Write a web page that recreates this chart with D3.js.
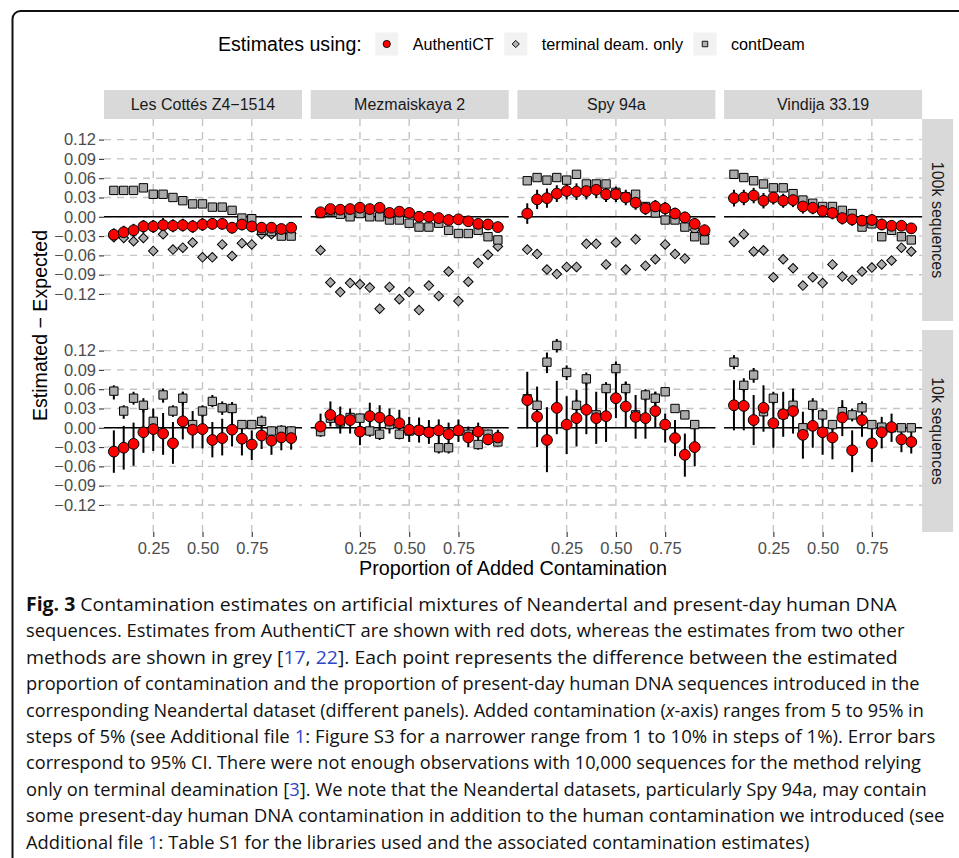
<!DOCTYPE html>
<html>
<head>
<meta charset="utf-8">
<script src="https://cdn.jsdelivr.net/npm/d3@7"></script>
<style>
  body { margin: 0; background: #fff; }
  svg { display: block; }
</style>
</head>
<body>
<div id="chart"></div>
<script>
// ---- data ----
var props = [0.05, 0.10, 0.15, 0.20, 0.25, 0.30, 0.35, 0.40, 0.45, 0.50,
             0.55, 0.60, 0.65, 0.70, 0.75, 0.80, 0.85, 0.90, 0.95];
var datasets = ["Les Cottés Z4\u22121514", "Mezmaiskaya 2", "Spy 94a", "Vindija 33.19"];
var depths = ["100k sequences", "10k sequences"];
var methods = ["AuthentiCT", "terminal deam. only", "contDeam"];
var yTicks = [-0.12, -0.09, -0.06, -0.03, 0, 0.03, 0.06, 0.09, 0.12];
var xTicks = [0.25, 0.50, 0.75];

// 100k sequences (AuthentiCT value + CI half width, terminal deam., contDeam)
var lc100Auth   = [-0.028,-0.024,-0.021,-0.015,-0.015,-0.013,-0.014,-0.013,-0.015,-0.012,-0.011,-0.011,-0.017,-0.012,-0.015,-0.017,-0.017,-0.019,-0.017];
var lc100AuthCi = [0.010,0.010,0.010,0.010,0.010,0.011,0.010,0.010,0.010,0.010,0.009,0.009,0.009,0.009,0.009,0.009,0.008,0.008,0.008];
var lc100Term   = [-0.032,-0.033,-0.038,-0.033,-0.053,-0.027,-0.051,-0.048,-0.040,-0.063,-0.063,-0.043,-0.061,-0.041,-0.043,-0.027,-0.027,-0.026,-0.026];
var lc100Cont   = [0.041,0.041,0.041,0.045,0.035,0.035,0.030,0.025,0.020,0.020,0.015,0.015,0.010,-0.002,-0.003,-0.021,-0.023,-0.030,-0.030];

var mz100Auth   = [0.007,0.012,0.011,0.012,0.014,0.012,0.014,0.006,0.008,0.006,0.000,0.000,-0.002,-0.005,-0.004,-0.007,-0.011,-0.012,-0.016];
var mz100AuthCi = [0.007,0.007,0.007,0.007,0.007,0.007,0.007,0.007,0.007,0.007,0.006,0.006,0.006,0.006,0.006,0.006,0.006,0.006,0.006];
var mz100Term   = [-0.052,-0.102,-0.117,-0.103,-0.105,-0.110,-0.143,-0.109,-0.128,-0.117,-0.145,-0.107,-0.123,-0.085,-0.131,-0.101,-0.072,-0.059,-0.046];
var mz100Cont   = [0.005,0.009,0.004,0.000,0.005,0.000,0.000,-0.005,-0.005,-0.010,-0.016,-0.016,-0.010,-0.021,-0.026,-0.026,-0.021,-0.031,-0.036];

var spy100Auth   = [0.005,0.027,0.029,0.036,0.040,0.039,0.040,0.042,0.035,0.035,0.030,0.022,0.013,0.016,0.013,0.005,-0.001,-0.011,-0.021];
var spy100AuthCi = [0.016,0.015,0.015,0.013,0.013,0.013,0.013,0.013,0.012,0.012,0.012,0.011,0.010,0.010,0.010,0.009,0.009,0.009,0.009];
var spy100Term   = [-0.051,-0.058,-0.082,-0.089,-0.078,-0.078,-0.042,-0.042,-0.074,-0.040,-0.082,-0.035,-0.076,-0.066,-0.043,-0.058,-0.065,-0.020,-0.027];
var spy100Cont   = [0.056,0.061,0.057,0.061,0.057,0.066,0.051,0.051,0.051,0.038,0.031,0.035,0.016,0.006,-0.005,-0.005,-0.016,-0.031,-0.036];

var vi100Auth   = [0.029,0.030,0.033,0.025,0.030,0.025,0.026,0.016,0.014,0.009,0.006,-0.002,-0.004,-0.006,-0.005,-0.012,-0.014,-0.014,-0.018];
var vi100AuthCi = [0.013,0.012,0.012,0.012,0.011,0.011,0.011,0.011,0.010,0.010,0.010,0.010,0.010,0.009,0.009,0.009,0.008,0.008,0.008];
var vi100Term   = [-0.039,-0.027,-0.054,-0.052,-0.094,-0.066,-0.080,-0.107,-0.094,-0.103,-0.074,-0.093,-0.098,-0.085,-0.079,-0.074,-0.068,-0.048,-0.054];
var vi100Cont   = [0.066,0.061,0.056,0.051,0.045,0.045,0.036,0.026,0.021,0.016,0.016,0.010,0.005,-0.016,-0.011,-0.031,-0.021,-0.031,-0.036];

// 10k sequences (value, lower and upper 95% CI)
var lc10Auth   = [-0.037,-0.031,-0.025,-0.007,-0.002,-0.009,-0.024,0.010,-0.003,-0.002,-0.019,-0.016,-0.003,-0.017,-0.026,-0.012,-0.020,-0.015,-0.016];
var lc10AuthLo = [-0.070,-0.065,-0.059,-0.039,-0.036,-0.042,-0.056,-0.018,-0.032,-0.032,-0.046,-0.043,-0.029,-0.043,-0.050,-0.033,-0.042,-0.035,-0.034];
var lc10AuthHi = [-0.004,0.003,0.008,0.028,0.030,0.023,0.009,0.056,0.026,0.028,0.009,0.014,0.028,0.007,-0.004,0.007,-0.001,0.004,0.002];
var lc10Cont   = [0.057,0.026,0.046,0.035,0.010,0.051,0.026,0.046,0.005,0.026,0.041,0.031,0.030,0.005,0.005,0.010,-0.005,-0.004,-0.005];
var lc10ContLo = [0.044,0.014,0.036,0.024,0.003,0.039,0.017,0.035,-0.001,0.017,0.032,0.020,0.020,-0.001,-0.001,0.002,-0.011,-0.010,-0.011];
var lc10ContHi = [0.066,0.035,0.056,0.046,0.017,0.061,0.035,0.056,0.012,0.035,0.051,0.041,0.040,0.010,0.010,0.019,0.002,0.002,0.002];

var mz10Auth   = [0.002,0.020,0.012,0.012,-0.006,0.018,0.016,0.011,0.007,-0.003,-0.004,-0.007,-0.004,-0.010,-0.004,-0.015,-0.006,-0.018,-0.015];
var mz10AuthLo = [-0.011,0.002,-0.009,-0.009,-0.027,-0.004,-0.004,-0.009,-0.011,-0.022,-0.023,-0.025,-0.030,-0.030,-0.022,-0.030,-0.019,-0.027,-0.025];
var mz10AuthHi = [0.022,0.041,0.033,0.030,0.017,0.039,0.035,0.030,0.028,0.017,0.016,0.012,0.013,0.008,0.013,0.002,0.008,-0.004,-0.003];
var mz10Cont   = [-0.006,0.015,0.009,0.016,0.015,-0.005,-0.010,0.005,-0.010,-0.005,-0.004,-0.006,-0.031,-0.031,-0.005,-0.010,-0.026,-0.010,-0.022];
var mz10ContLo = [-0.014,0.007,0.001,0.008,0.007,-0.014,-0.019,-0.003,-0.018,-0.013,-0.012,-0.014,-0.040,-0.040,-0.012,-0.017,-0.034,-0.017,-0.029];
var mz10ContHi = [0.002,0.023,0.017,0.024,0.022,0.003,-0.001,0.013,-0.003,0.003,0.004,0.002,-0.023,-0.023,0.002,-0.003,-0.019,-0.003,-0.015];

var spy10Auth   = [0.043,0.017,-0.019,0.031,0.005,0.015,0.028,0.015,0.018,0.046,0.033,0.017,0.015,0.026,0.005,-0.016,-0.042,-0.030,null];
var spy10AuthLo = [-0.001,-0.030,-0.069,-0.010,-0.041,-0.029,-0.010,-0.025,-0.022,0.015,0.000,-0.017,-0.017,0.000,-0.023,-0.044,-0.076,-0.060,null];
var spy10AuthHi = [0.087,0.064,0.032,0.073,0.049,0.059,0.070,0.056,0.056,0.084,0.072,0.051,0.046,0.056,0.022,0.012,-0.009,0.003,null];
var spy10Cont   = [0.045,0.035,0.102,0.128,0.086,0.035,0.076,0.020,0.061,0.092,0.061,0.020,0.051,0.046,0.056,0.030,0.020,0.005,null];
var spy10ContLo = [0.035,0.026,0.085,0.117,0.074,0.026,0.066,0.012,0.051,0.080,0.051,0.012,0.042,0.035,0.052,0.027,0.017,0.002,null];
var spy10ContHi = [0.055,0.044,0.117,0.138,0.097,0.044,0.086,0.028,0.071,0.103,0.071,0.028,0.060,0.056,0.060,0.033,0.023,0.008,null];

var vi10Auth   = [0.035,0.034,0.012,0.031,0.007,0.021,0.026,-0.011,0.003,-0.007,-0.015,0.016,-0.035,0.012,-0.024,-0.007,0.001,-0.018,-0.022];
var vi10AuthLo = [-0.004,-0.004,-0.027,-0.006,-0.031,-0.014,-0.009,-0.048,-0.031,-0.042,-0.049,-0.013,-0.069,-0.014,-0.053,-0.032,-0.022,-0.038,-0.040];
var vi10AuthHi = [0.074,0.069,0.051,0.066,0.046,0.056,0.061,0.025,0.035,0.025,0.009,0.043,-0.004,0.035,0.002,0.017,0.022,-0.001,-0.004];
var vi10Cont   = [0.102,0.066,0.082,0.025,0.046,0.021,0.035,0.000,0.035,0.020,0.005,0.025,0.020,0.031,0.005,0.001,0.000,0.000,0.000];
var vi10ContLo = [0.091,0.056,0.070,0.017,0.036,0.013,0.025,-0.006,0.025,0.010,-0.004,0.015,0.010,0.020,0.000,-0.004,-0.004,-0.004,-0.004];
var vi10ContHi = [0.113,0.077,0.093,0.033,0.056,0.029,0.045,0.006,0.046,0.030,0.012,0.035,0.030,0.041,0.010,0.006,0.004,0.004,0.004];

var captionLines = [
  [["Fig. 3", "b"], [" Contamination estimates on artificial mixtures of Neandertal and present-day human DNA", ""]],
  [["sequences. Estimates from AuthentiCT are shown with red dots, whereas the estimates from two other", ""]],
  [["methods are shown in grey [", ""], ["17", "l"], [", ", ""], ["22", "l"], ["]. Each point represents the difference between the estimated", ""]],
  [["proportion of contamination and the proportion of present-day human DNA sequences introduced in the", ""]],
  [["corresponding Neandertal dataset (different panels). Added contamination (", ""], ["x", "i"], ["-axis) ranges from 5 to 95% in", ""]],
  [["steps of 5% (see Additional file ", ""], ["1", "l"], [": Figure S3 for a narrower range from 1 to 10% in steps of 1%). Error bars", ""]],
  [["correspond to 95% CI. There were not enough observations with 10,000 sequences for the method relying", ""]],
  [["only on terminal deamination [", ""], ["3", "l"], ["]. We note that the Neandertal datasets, particularly Spy 94a, may contain", ""]],
  [["some present-day human DNA contamination in addition to the human contamination we introduced (see", ""]],
  [["Additional file ", ""], ["1", "l"], [": Table S1 for the libraries used and the associated contamination estimates)", ""]]
];

// ---- facets built from the arrays above ----
function rows100(auth, ci, term, cont) {
  return props.map(function (p, i) {
    return {x: p,
      auth: auth[i], authLo: auth[i] - ci[i], authHi: auth[i] + ci[i],
      term: term[i], cont: cont[i]};
  });
}
function rows10(auth, aLo, aHi, cont, cLo, cHi) {
  return props.map(function (p, i) {
    return {x: p, auth: auth[i], authLo: aLo[i], authHi: aHi[i],
      term: null, cont: cont[i], contLo: cLo[i], contHi: cHi[i]};
  });
}
var facets = [
  {col: 0, row: 0, pts: rows100(lc100Auth, lc100AuthCi, lc100Term, lc100Cont)},
  {col: 1, row: 0, pts: rows100(mz100Auth, mz100AuthCi, mz100Term, mz100Cont)},
  {col: 2, row: 0, pts: rows100(spy100Auth, spy100AuthCi, spy100Term, spy100Cont)},
  {col: 3, row: 0, pts: rows100(vi100Auth, vi100AuthCi, vi100Term, vi100Cont)},
  {col: 0, row: 1, pts: rows10(lc10Auth, lc10AuthLo, lc10AuthHi, lc10Cont, lc10ContLo, lc10ContHi)},
  {col: 1, row: 1, pts: rows10(mz10Auth, mz10AuthLo, mz10AuthHi, mz10Cont, mz10ContLo, mz10ContHi)},
  {col: 2, row: 1, pts: rows10(spy10Auth, spy10AuthLo, spy10AuthHi, spy10Cont, spy10ContLo, spy10ContHi)},
  {col: 3, row: 1, pts: rows10(vi10Auth, vi10AuthLo, vi10AuthHi, vi10Cont, vi10ContLo, vi10ContHi)}
];

// ---- layout ----
var W = 959, H = 858;
var font = "'Liberation Sans', Arial, Helvetica, sans-serif";
var left0 = 104, top0 = 119;
var panelW = 198, panelH = 202, colStep = 206.7, rowStep = 211;
var stripH = 29, stripW = 31;

var svg = d3.select("#chart").append("svg")
  .attr("width", W).attr("height", H)
  .attr("font-family", font);

svg.append("rect").attr("width", W).attr("height", H).attr("fill", "#fff");

// rounded frame around the figure
svg.append("path")
  .attr("d", "M12.5,900 V19 A8,8 0 0 1 20.5,11 H990")
  .attr("fill", "none").attr("stroke", "#111").attr("stroke-width", 2);

var x = d3.scaleLinear().domain([0, 1.005]).range([0, panelW]);
var y = d3.scaleLinear().domain([-0.162, 0.152]).range([panelH, 0]);

var diamond = d3.symbol().type(d3.symbolSquare).size(46)();
var square = d3.symbol().type(d3.symbolSquare).size(70)();

// ---- legend ----
var legend = svg.append("g").attr("class", "legend");
var legTitle = legend.append("text")
  .attr("x", 218).attr("y", 50.5)
  .attr("font-size", 19.6).attr("fill", "#000")
  .text("Estimates using:");
var cursor = legTitle.node().getComputedTextLength() + 218 + 25;
methods.forEach(function (m, i) {
  var g = legend.append("g").attr("transform", "translate(" + cursor + ",44)");
  g.append("rect").attr("x", -11.5).attr("y", -11.5).attr("width", 23).attr("height", 23)
    .attr("fill", "#f2f2f2");
  if (i === 0) {
    g.append("circle").attr("r", 3.6).attr("fill", "red").attr("stroke", "#000").attr("stroke-width", 0.9);
  } else if (i === 1) {
    g.append("path").attr("d", d3.symbol().type(d3.symbolSquare).size(26)())
      .attr("transform", "rotate(45)")
      .attr("fill", "#b3b3b3").attr("stroke", "#000").attr("stroke-width", 0.9);
  } else {
    g.append("path").attr("d", d3.symbol().type(d3.symbolSquare).size(30)())
      .attr("fill", "#b3b3b3").attr("stroke", "#000").attr("stroke-width", 0.9);
  }
  var t = legend.append("text")
    .attr("x", cursor + 26).attr("y", 50)
    .attr("font-size", 16.2).attr("fill", "#000")
    .text(m);
  cursor += 26 + t.node().getComputedTextLength() + 22;
});

// ---- strips ----
datasets.forEach(function (d, i) {
  var sx = left0 + i * colStep;
  svg.append("rect").attr("x", sx).attr("y", top0 - stripH)
    .attr("width", panelW).attr("height", stripH).attr("fill", "#d9d9d9");
  svg.append("text").attr("x", sx + panelW / 2).attr("y", top0 - stripH / 2 + 5.8)
    .attr("text-anchor", "middle").attr("font-size", 16).attr("fill", "#1a1a1a")
    .text(d);
});
depths.forEach(function (d, j) {
  var sy = top0 + j * rowStep;
  var sx = left0 + 3 * colStep + panelW;
  svg.append("rect").attr("x", sx).attr("y", sy)
    .attr("width", stripW).attr("height", panelH).attr("fill", "#d9d9d9");
  svg.append("text")
    .attr("transform", "translate(" + (sx + stripW / 2 - 5.8) + "," + (sy + panelH / 2) + ") rotate(90)")
    .attr("text-anchor", "middle").attr("font-size", 16).attr("fill", "#1a1a1a")
    .text(d);
});

// ---- panels ----
facets.forEach(function (f) {
  var g = svg.append("g")
    .attr("transform", "translate(" + (left0 + f.col * colStep) + "," + (top0 + f.row * rowStep) + ")");

  g.append("g").selectAll("line").data(yTicks).enter().append("line")
    .attr("x1", 0).attr("x2", panelW)
    .attr("y1", function (d) { return y(d); }).attr("y2", function (d) { return y(d); })
    .attr("stroke", "#c4c4c4").attr("stroke-width", 1.4).attr("stroke-dasharray", "7,6");
  g.append("g").selectAll("line").data(xTicks).enter().append("line")
    .attr("y1", 0).attr("y2", panelH)
    .attr("x1", function (d) { return x(d); }).attr("x2", function (d) { return x(d); })
    .attr("stroke", "#c4c4c4").attr("stroke-width", 1.4).attr("stroke-dasharray", "7,6");

  g.append("line").attr("x1", 0).attr("x2", panelW)
    .attr("y1", y(0)).attr("y2", y(0))
    .attr("stroke", "#000").attr("stroke-width", 1.5);

  // error bars
  var bars = f.pts.filter(function (p) { return p.auth !== null; }).map(function (p) {
    return {x: p.x, lo: p.authLo, hi: p.authHi};
  });
  f.pts.forEach(function (p) {
    if (p.contLo !== undefined && p.cont !== null) bars.push({x: p.x, lo: p.contLo, hi: p.contHi});
  });
  g.append("g").selectAll("line").data(bars).enter().append("line")
    .attr("x1", function (d) { return x(d.x); }).attr("x2", function (d) { return x(d.x); })
    .attr("y1", function (d) { return y(d.lo); }).attr("y2", function (d) { return y(d.hi); })
    .attr("stroke", "#000").attr("stroke-width", 2);

  // terminal deamination only
  g.append("g").selectAll("path")
    .data(f.pts.filter(function (p) { return p.term !== null; }))
    .enter().append("path")
    .attr("d", diamond)
    .attr("transform", function (d) { return "translate(" + x(d.x) + "," + y(d.term) + ") rotate(45)"; })
    .attr("fill", "#aaaaaa").attr("stroke", "#000").attr("stroke-width", 1);

  // contDeam
  g.append("g").selectAll("path")
    .data(f.pts.filter(function (p) { return p.cont !== null; }))
    .enter().append("path")
    .attr("d", square)
    .attr("transform", function (d) { return "translate(" + x(d.x) + "," + y(d.cont) + ")"; })
    .attr("fill", "#aaaaaa").attr("stroke", "#000").attr("stroke-width", 1);

  // AuthentiCT
  g.append("g").selectAll("circle")
    .data(f.pts.filter(function (p) { return p.auth !== null; }))
    .enter().append("circle")
    .attr("cx", function (d) { return x(d.x); })
    .attr("cy", function (d) { return y(d.auth); })
    .attr("r", 5.4)
    .attr("fill", "#ff0000").attr("stroke", "#000").attr("stroke-width", 1);

  // axes
  if (f.col === 0) {
    var ay = g.append("g").call(d3.axisLeft(y).tickValues(yTicks).tickSize(5).tickPadding(3)
      .tickFormat(d3.format(".2f")));
    ay.select(".domain").remove();
    ay.selectAll("line").attr("stroke", "#333").attr("stroke-width", 1.1);
    ay.selectAll("text").attr("font-size", 16.5).attr("fill", "#4d4d4d").attr("font-family", font);
  }
  if (f.row === 1) {
    var ax = g.append("g").attr("transform", "translate(0," + panelH + ")")
      .call(d3.axisBottom(x).tickValues(xTicks).tickSize(5).tickPadding(5)
        .tickFormat(d3.format(".2f")));
    ax.select(".domain").remove();
    ax.selectAll("line").attr("stroke", "#333").attr("stroke-width", 1.1);
    ax.selectAll("text").attr("font-size", 16.5).attr("fill", "#4d4d4d").attr("font-family", font);
  }
});

// axis titles
svg.append("text")
  .attr("x", left0 + (3 * colStep + panelW) / 2).attr("y", 574.5)
  .attr("text-anchor", "middle").attr("font-size", 19.8).attr("fill", "#000")
  .text("Proportion of Added Contamination");
svg.append("text")
  .attr("transform", "translate(46.5," + (top0 + (rowStep + panelH) / 2) + ") rotate(-90)")
  .attr("text-anchor", "middle").attr("font-size", 19.6).attr("fill", "#000")
  .text("Estimated \u2212 Expected");

// ---- caption ----
var capRight = [897, 905, 898, 920, 924, 936, 922, 927, 945, 810];
var cap = svg.append("g").attr("font-family", "'Open Sans', 'Noto Sans', sans-serif")
  .attr("font-size", 19).attr("fill", "#111");
captionLines.forEach(function (line, i) {
  var t = cap.append("text").attr("x", 0).attr("y", 0);
  line.forEach(function (seg) {
    var s = t.append("tspan").text(seg[0]);
    if (seg[1] === "b") s.attr("font-weight", "bold");
    if (seg[1] === "l") s.attr("fill", "#2f47c6");
    if (seg[1] === "i") s.attr("font-style", "italic");
  });
  var w = t.node().getComputedTextLength();
  var sx = (capRight[i] - 26) / w;
  t.attr("transform", "translate(26," + (611 + i * 26.4) + ") scale(" + sx + ",1)");
});
</script>
</body>
</html>
